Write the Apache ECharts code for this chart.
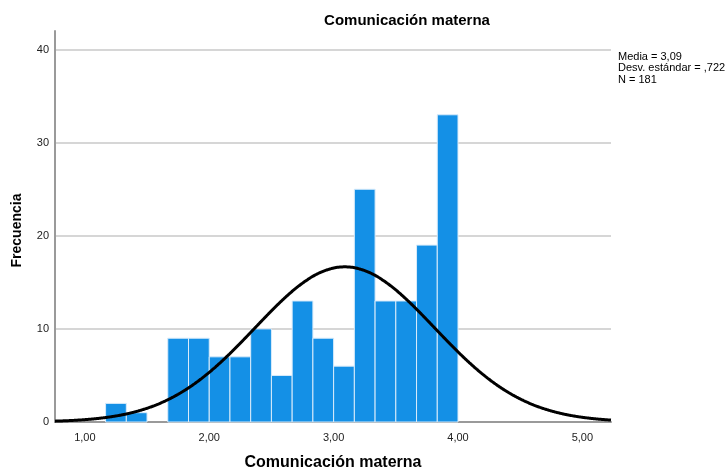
<!DOCTYPE html>
<html>
<head>
<meta charset="utf-8">
<script src="https://cdn.jsdelivr.net/npm/echarts@6/dist/echarts.min.js"></script>
<style>
  html, body { margin: 0; padding: 0; background: #fff; }
  #chart { width: 725px; height: 472px; }
</style>
</head>
<body>
<div id="chart"></div>
<script>
// Histogram bins (width 1/6) and counts
const binWidth = 1 / 6;
const binStarts = [7, 8, 9, 10, 11, 12, 13, 14, 15, 16, 17, 18, 19, 20, 21, 22, 23].map(k => k / 6);
const counts = [2, 1, 0, 9, 9, 7, 7, 10, 5, 13, 9, 6, 25, 13, 13, 19, 33];

// Summary statistics shown beside the plot
const mean = 3.09;
const sd = 0.722;
const n = 181;

const xTicks = [1, 2, 3, 4, 5];
const yTicks = [0, 10, 20, 30, 40];

// Fitted normal curve scaled to the histogram's frequency axis
const curve = [];
for (let x = 0.76; x <= 5.235; x += 0.01) {
  const z = (x - mean) / sd;
  const y = n * binWidth * Math.exp(-0.5 * z * z) / (sd * Math.sqrt(2 * Math.PI));
  curve.push([x, y]);
}

const fmt = v => v.toFixed(2).replace('.', ',');

const chart = echarts.init(document.getElementById('chart'));
chart.setOption({
  animation: false,
  backgroundColor: '#ffffff',
  textStyle: { fontFamily: 'Arial, Liberation Sans, sans-serif' },
  title: {
    text: 'Comunicación materna',
    left: 402, top: 8, textAlign: 'center',
    textStyle: { fontSize: 15, fontWeight: 'bold', color: '#000', fontFamily: 'Arial, Liberation Sans, sans-serif' }
  },
  graphic: [{
    type: 'text', left: 618, top: 51,
    style: {
      text: 'Media = 3,09\nDesv. estándar = ,722\nN = 181',
      font: '11px Arial, Liberation Sans, sans-serif', fill: '#000', lineHeight: 11.5
    }
  }],
  grid: { left: 55, right: 114, top: 31, bottom: 50, outerBoundsMode: 'none', containLabel: false },
  xAxis: {
    type: 'value', min: 0.76, max: 5.23,
    name: 'Comunicación materna', nameLocation: 'middle', nameGap: 33,
    nameTextStyle: { fontSize: 16, fontWeight: 'bold', color: '#000' },
    axisLine: { show: true, lineStyle: { color: '#9a9a9a', width: 2 } },
    axisTick: { show: false },
    splitLine: { show: false },
    axisLabel: {
      customValues: xTicks, formatter: v => fmt(v),
      color: '#222', fontSize: 11, margin: 10
    }
  },
  yAxis: {
    type: 'value', min: 0, max: 42, interval: 10,
    name: 'Frecuencia', nameLocation: 'middle', nameGap: 31, nameRotate: 90,
    nameTextStyle: { fontSize: 14, fontWeight: 'bold', color: '#000', padding: [0, 8, 0, 0] },
    axisLine: { show: true, lineStyle: { color: '#9a9a9a', width: 2 } },
    axisTick: { show: false },
    splitLine: { show: true, showMaxLine: false, lineStyle: { color: '#c8c8c8', width: 1.5 } },
    axisLabel: { customValues: yTicks, color: '#222', fontSize: 11, margin: 6 }
  },
  series: [
    {
      type: 'custom',
      data: binStarts.map((s, i) => [s, s + binWidth, counts[i]]),
      renderItem: (params, api) => {
        const h = api.value(2);
        if (!h) return;
        const p0 = api.coord([api.value(0), 0]);
        const p1 = api.coord([api.value(1), h]);
        return {
          type: 'rect',
          shape: { x: p0[0], y: p1[1], width: p1[0] - p0[0], height: p0[1] - p1[1] },
          style: { fill: '#1490e6', stroke: '#d9ebfa', lineWidth: 1 }
        };
      },
      encode: { x: [0, 1], y: 2 },
      z: 2
    },
    {
      type: 'line', data: curve, showSymbol: false, smooth: true,
      lineStyle: { color: '#000', width: 3 }, z: 3, clip: false
    }
  ]
});
</script>
</body>
</html>
